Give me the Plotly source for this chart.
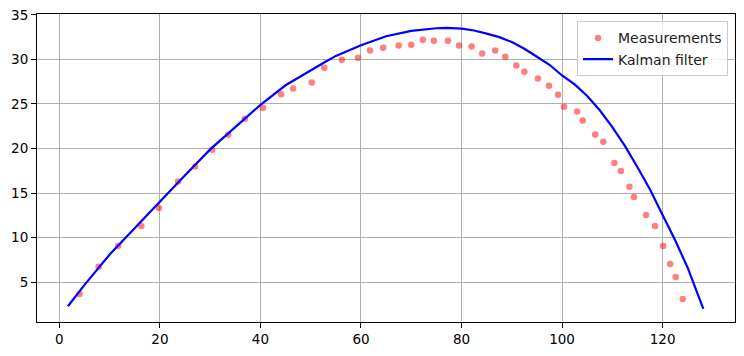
import plotly.graph_objects as go

meas_x = [4.0, 7.8, 11.7, 16.3, 19.8, 23.6, 27.0, 30.4, 33.6, 36.9, 40.5, 44.1, 46.5,
          50.2, 52.7, 56.2, 59.4, 61.8, 64.4, 67.5, 70.0, 72.3, 74.5, 77.3, 79.5, 82.0,
          84.1, 86.7, 88.7, 90.9, 92.5, 95.2, 97.4, 99.2, 100.4, 103.0, 104.1, 106.6,
          108.2, 110.4, 111.7, 113.4, 114.3, 116.7, 118.5, 120.1, 121.5, 122.6, 124.0]
meas_y = [3.67, 6.74, 9.06, 11.31, 13.33, 16.29, 17.98, 19.85, 21.54, 23.33, 24.57, 26.1,
          26.74, 27.42, 29.06, 29.96, 30.19, 31.01, 31.31, 31.57, 31.65, 32.21, 32.1, 32.1,
          31.57, 31.46, 30.67, 31.01, 30.3, 29.33, 28.61, 27.87, 27.04, 26.03, 24.69, 24.16,
          23.15, 21.57, 20.75, 18.39, 17.49, 15.70, 14.57, 12.55, 11.31, 9.06, 7.04, 5.58, 3.11]

kf_x = [1.7, 5, 10, 15, 20, 25, 30, 35, 40, 45, 50, 52.5, 55, 60, 65, 70, 75, 77, 80,
        82.5, 85, 87.5, 90, 92.5, 95, 97.5, 100, 102.5, 105, 107.5, 110, 112.5, 115,
        117.5, 120, 122.5, 125, 126.5, 128.1]
kf_y = [2.3, 4.7, 8.1, 11.1, 14.1, 17.0, 19.9, 22.4, 24.9, 27.1, 28.8, 29.6, 30.4, 31.6,
        32.6, 33.2, 33.5, 33.55, 33.45, 33.25, 32.9, 32.5, 31.95, 31.2, 30.3, 29.4, 28.2,
        27.2, 25.9, 24.3, 22.4, 20.3, 17.9, 15.4, 12.55, 9.7, 6.6, 4.4, 2.0]

fig = go.Figure()
fig.add_trace(go.Scatter(x=meas_x, y=meas_y, mode="markers", name="Measurements",
                         marker=dict(color="rgba(255,0,0,0.5)", size=6.5, line=dict(width=0))))
fig.add_trace(go.Scatter(x=kf_x, y=kf_y, mode="lines", name="Kalman filter",
                         line=dict(color="#0000ff", width=2.2)))

axis_common = dict(showgrid=True, gridcolor="#b0b0b0", gridwidth=0.8, zeroline=False,
                   showline=True, linecolor="black", linewidth=1, mirror=True,
                   ticks="outside", ticklen=5, tickcolor="black", tickwidth=1,
                   automargin=False,
                   tickfont=dict(family="DejaVu Sans", size=13.5, color="black"))

fig.update_layout(
    width=744, height=356,
    margin=dict(l=37, r=9, t=14, b=34, autoexpand=False),
    plot_bgcolor="white", paper_bgcolor="white",
    xaxis=dict(range=[-4.45, 134.4], tick0=0, dtick=20, **axis_common),
    yaxis=dict(range=[0.53, 35.1], tick0=0, dtick=5, **axis_common),
    legend=dict(x=0.99, y=0.976, xanchor="right", yanchor="top",
                bgcolor="rgba(255,255,255,0.8)", bordercolor="#cccccc", borderwidth=1,
                font=dict(family="DejaVu Sans", size=14, color="#222")),
    showlegend=True,
)

fig.write_html("out.html", config={"displayModeBar": False},
               post_script="document.body.style.margin='0px';document.body.style.overflow='hidden';")
